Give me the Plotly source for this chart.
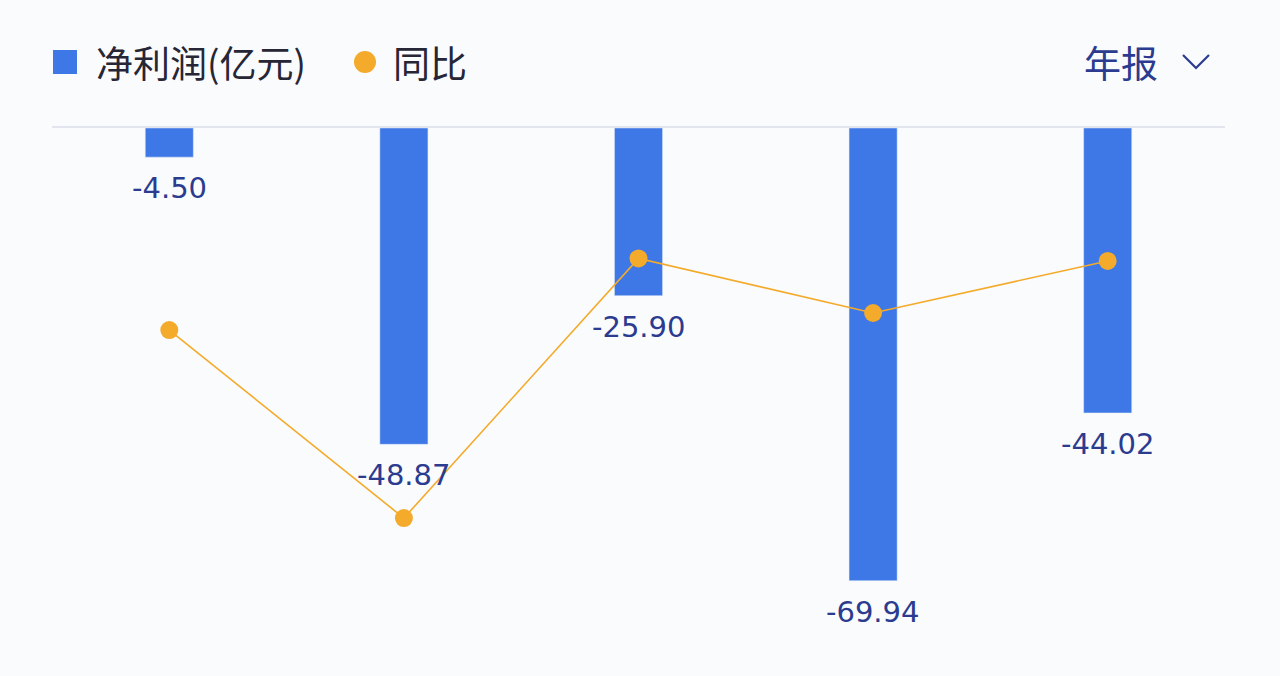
import plotly.graph_objects as go

## Datos
years = ["Y1", "Y2", "Y3", "Y4", "Y5"]
net_profit = [-4.50, -48.87, -25.90, -69.94, -44.02]   # 净利润(亿元)
yoy = [-238, -986, 47, -170, 37]                       # 同比 (%)
profit_labels = [f"{v:.2f}" for v in net_profit]

blue = "#3e77e6"
orange = "#f4aa2a"
text_blue = "#2b3b8f"
bg = "#fafbfd"

## Area del grafico en pixeles (1280x676)
L, R, T, B = 52, 55, 128, 36
W, H = 1280 - L - R, 676 - T - B


def px(x):
    return (x - L) / W


def py(y):
    return (676 - B - y) / H


fig = go.Figure()
fig.add_trace(go.Bar(x=years, y=net_profit, marker_color=blue,
                     name="净利润(亿元)", width=0.205))
fig.add_trace(go.Scatter(x=years, y=yoy, yaxis="y2", mode="lines+markers",
                         line=dict(color=orange, width=1.6),
                         marker=dict(size=18, color=orange), cliponaxis=False,
                         name="同比"))

## Leyenda manual
shapes = [
    dict(type="rect", xref="paper", yref="paper", x0=px(53), x1=px(77), y0=py(74), y1=py(50),
         fillcolor=blue, line_width=0),
    dict(type="circle", xref="paper", yref="paper", x0=px(354), x1=px(376), y0=py(73), y1=py(51),
         fillcolor=orange, line_width=0),
    dict(type="path", xref="paper", yref="paper",
         path=f"M {px(1183)} {py(55)} L {px(1196)} {py(68)} L {px(1209)} {py(55)}",
         line=dict(color=text_blue, width=2.2)),
]
cjk = "Noto Sans CJK SC"
annotations = [
    dict(text="净利润(亿元)", x=px(94), y=py(62), xref="paper", yref="paper", showarrow=False,
         xanchor="left", yanchor="middle", font=dict(size=37, color="#262636", family=cjk)),
    dict(text="同比", x=px(391), y=py(62), xref="paper", yref="paper", showarrow=False,
         xanchor="left", yanchor="middle", font=dict(size=37, color="#262636", family=cjk)),
    dict(text="年报", x=px(1082), y=py(62), xref="paper", yref="paper", showarrow=False,
         xanchor="left", yanchor="middle", font=dict(size=37, color=text_blue, family=cjk)),
]
# etiquetas de las barras
for yr, v, lab in zip(years, net_profit, profit_labels):
    annotations.append(dict(x=yr, y=v, xref="x", yref="y", text=lab, showarrow=False,
                            yanchor="middle", yshift=-31,
                            font=dict(size=29, color=text_blue, family="DejaVu Sans")))

fig.update_layout(
    width=1280, height=676,
    margin=dict(l=L, r=R, t=T, b=B),
    paper_bgcolor=bg, plot_bgcolor=bg,
    showlegend=False,
    shapes=shapes, annotations=annotations,
    xaxis=dict(side="top", showline=True, linecolor="#e2e5ee", linewidth=1.5,
               showticklabels=False, ticks="", showgrid=False),
    yaxis=dict(range=[-79.1, 0], visible=False, showgrid=False, zeroline=False),
    yaxis2=dict(range=[-1471, 566], overlaying="y", visible=False, showgrid=False, zeroline=False),
)

fig.write_html("out.html", config={"displayModeBar": False},
               post_script="document.body.style.margin='0';")
